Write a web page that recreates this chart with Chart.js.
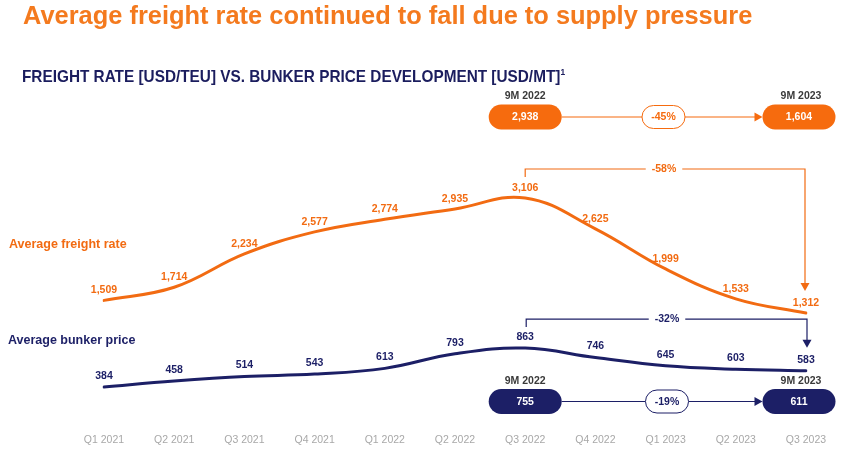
<!DOCTYPE html>
<html>
<head>
<meta charset="utf-8">
<script src="https://cdn.jsdelivr.net/npm/chart.js@4"></script>
<style>
  html, body { margin: 0; padding: 0; background: #fff; }
  #wrap { position: relative; width: 865px; height: 459px; overflow: hidden; }
  canvas { position: absolute; left: 0; top: 0; }
  .hd { position: absolute; white-space: nowrap; font-family: 'Liberation Sans', Arial, sans-serif; font-weight: bold; transform-origin: left top; }
  #title { left: 23px; top: 3px; font-size: 25px; line-height: 25px; color: #F47A1E; }
  #subtitle { left: 22px; top: 68px; font-size: 16.5px; line-height: 16.5px; color: #1B1D5E; }
  #subtitle sup { font-size: 9px; vertical-align: 7px; line-height: 0; }
</style>
</head>
<body>
<div id="wrap">
  <canvas id="c" width="865" height="459"></canvas>
  <div id="title" class="hd">Average freight rate continued to fall due to supply pressure</div>
  <div id="subtitle" class="hd">FREIGHT RATE [USD/TEU] VS. BUNKER PRICE DEVELOPMENT [USD/MT]<sup>1</sup></div>
</div>
<script>
// ---- data ----
const quarters = ['Q1 2021','Q2 2021','Q3 2021','Q4 2021','Q1 2022','Q2 2022','Q3 2022','Q4 2022','Q1 2023','Q2 2023','Q3 2023'];
const freightRate = [1509, 1714, 2234, 2577, 2774, 2935, 3106, 2625, 1999, 1533, 1312];
const bunkerPrice = [384, 458, 514, 543, 613, 793, 863, 746, 645, 603, 583];
const periods = ['9M 2022', '9M 2023'];
const freight9M = [2938, 1604];
const bunker9M = [755, 611];
const freight9MChange = '-45%';
const bunker9MChange = '-19%';
const freightQ3Change = '-58%';
const bunkerQ3Change = '-32%';
const seriesNames = ['Average freight rate', 'Average bunker price'];

// ---- styles ----
const ORANGE = '#F26B12';
const ORANGE_PILL = '#F66B0E';
const NAVY = '#1C1F66';
const FONT = "'Liberation Sans', Arial, sans-serif";

// fit header widths
function fitWidth(id, target) {
  const el = document.getElementById(id);
  el.style.transform = 'scaleX(' + (target / el.offsetWidth) + ')';
}
fitWidth('title', 729);
fitWidth('subtitle', 543);

const fmt = v => v.toLocaleString('en-US');

function txt(ctx, s, x, y, size, color, align) {
  ctx.font = 'bold ' + size + 'px ' + FONT;
  ctx.fillStyle = color;
  ctx.textAlign = align || 'center';
  ctx.textBaseline = 'middle';
  ctx.fillText(s, x, y);
}
function rr(ctx, cx, cy, w, h) {
  const r = h / 2, l = cx - w / 2, t = cy - h / 2;
  ctx.beginPath();
  ctx.moveTo(l + r, t);
  ctx.lineTo(l + w - r, t);
  ctx.arc(l + w - r, cy, r, -Math.PI / 2, Math.PI / 2);
  ctx.lineTo(l + r, t + h);
  ctx.arc(l + r, cy, r, Math.PI / 2, Math.PI * 1.5);
  ctx.closePath();
}
function arrowRight(ctx, x, y, color) {
  ctx.fillStyle = color;
  ctx.beginPath(); ctx.moveTo(x, y); ctx.lineTo(x - 8, y - 4.5); ctx.lineTo(x - 8, y + 4.5); ctx.closePath(); ctx.fill();
}
function arrowDown(ctx, x, y, color) {
  ctx.fillStyle = color;
  ctx.beginPath(); ctx.moveTo(x, y); ctx.lineTo(x - 4.5, y - 8); ctx.lineTo(x + 4.5, y - 8); ctx.closePath(); ctx.fill();
}
function compareRow(ctx, L, R, M, cy, labelY, vals, change, color) {
  const w = 73, h = 25, mw = 43, mh = 23;
  ctx.strokeStyle = color; ctx.lineWidth = 1.2;
  ctx.beginPath();
  ctx.moveTo(L + w / 2, cy); ctx.lineTo(M - mw / 2, cy);
  ctx.moveTo(M + mw / 2, cy); ctx.lineTo(R - w / 2 - 7, cy);
  ctx.stroke();
  arrowRight(ctx, R - w / 2, cy, color);
  [L, R].forEach((cx, i) => {
    rr(ctx, cx, cy, w, h); ctx.fillStyle = color; ctx.fill();
    txt(ctx, fmt(vals[i]), cx, cy + 0.5, 10.5, '#ffffff');
    txt(ctx, periods[i], cx + (i ? 2 : 0), labelY, 10.5, '#3a3a3a');
  });
  rr(ctx, M, cy, mw, mh); ctx.fillStyle = '#fff'; ctx.fill();
  ctx.lineWidth = 1; ctx.strokeStyle = color; ctx.stroke();
  txt(ctx, change, M, cy + 0.5, 10.5, color);
}
function bracket(ctx, L, R, y, tipY, M, label, color) {
  ctx.font = 'bold 10.5px ' + FONT;
  const gw = ctx.measureText(label).width + 12;
  ctx.strokeStyle = color; ctx.lineWidth = 1.2;
  ctx.beginPath();
  ctx.moveTo(L, y + 8); ctx.lineTo(L, y); ctx.lineTo(M - gw / 2, y);
  ctx.moveTo(M + gw / 2, y); ctx.lineTo(R, y); ctx.lineTo(R, tipY - 7);
  ctx.stroke();
  arrowDown(ctx, R, tipY, color);
  txt(ctx, label, M, y + 0.5, 10.5, color);
}

const annotations = {
  id: 'annotations',
  afterDatasetsDraw(chart) {
    const ctx = chart.ctx;
    const x = chart.scales.x, yF = chart.scales.y, yB = chart.scales.y2;
    ctx.save();
    // value labels
    const offs = [10, 11];
    const cols = [ORANGE, NAVY];
    chart.data.datasets.forEach((ds, di) => {
      chart.getDatasetMeta(di).data.forEach((pt, i) => {
        txt(ctx, fmt(ds.data[i]), pt.x, pt.y - offs[di], 10.5, cols[di]);
      });
    });
    // series names
    txt(ctx, seriesNames[0], 9, 245, 12.5, ORANGE, 'left');
    txt(ctx, seriesNames[1], 8, 341, 12.5, NAVY, 'left');

    const last = quarters.length - 1;
    const q3i = 6;
    const xq3 = x.getPixelForValue(q3i), xl = x.getPixelForValue(last);
    // brackets
    bracket(ctx, xq3, xl - 1, yF.getPixelForValue(freightRate[q3i]) - 29,
            yF.getPixelForValue(freightRate[last]) - 22, 664, freightQ3Change, ORANGE);
    bracket(ctx, xq3 + 1, xl + 1, yB.getPixelForValue(bunkerPrice[q3i]) - 29,
            yB.getPixelForValue(bunkerPrice[last]) - 23, 667, bunkerQ3Change, NAVY);
    // 9M comparison rows
    compareRow(ctx, xq3, xl - 7, 663.5, 117, 96, freight9M, freight9MChange, ORANGE_PILL);
    compareRow(ctx, xq3, xl - 7, 667, 401.5, 381, bunker9M, bunker9MChange, NAVY);
    ctx.restore();
  }
};

Chart.defaults.font.family = FONT;
new Chart(document.getElementById('c'), {
  type: 'line',
  data: {
    labels: quarters,
    datasets: [
      { label: seriesNames[0], data: freightRate, yAxisID: 'y', borderColor: ORANGE, borderWidth: 3,
        pointRadius: 0, tension: 0.4, fill: false, borderCapStyle: 'round' },
      { label: seriesNames[1], data: bunkerPrice, yAxisID: 'y2', borderColor: NAVY, borderWidth: 3,
        pointRadius: 0, tension: 0.4, fill: false, borderCapStyle: 'round' }
    ]
  },
  options: {
    responsive: false,
    animation: false,
    devicePixelRatio: 1,
    layout: { padding: { left: 104, right: 59, top: 100, bottom: 7 } },
    plugins: { legend: { display: false }, tooltip: { enabled: false }, title: { display: false } },
    scales: {
      x: {
        offset: false,
        grid: { display: false, drawTicks: false },
        border: { display: false },
        ticks: { color: '#A8A8A8', font: { size: 10.5 }, padding: 6, maxRotation: 0, autoSkip: false }
      },
      y: { display: false, min: -473, max: 4635 },
      y2: { display: false, min: -112, max: 3910 }
    }
  },
  plugins: [annotations]
});
</script>
</body>
</html>
